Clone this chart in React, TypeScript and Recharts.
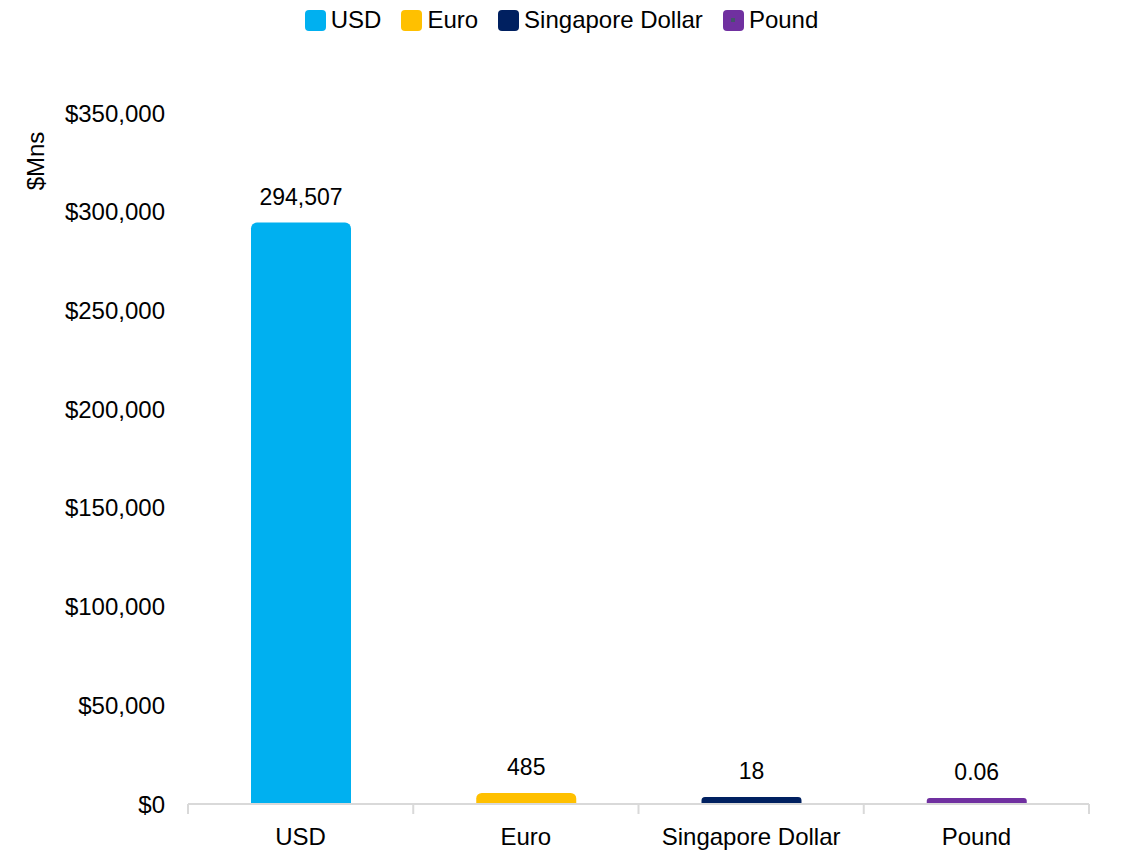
import React from 'react';
import { BarChart, Bar, XAxis, YAxis, Cell, LabelList, Legend } from 'recharts';

const categories = ['USD', 'Euro', 'Singapore Dollar', 'Pound'];
const values = [294507, 485, 18, 0.06];
const colors = ['#00B0F0', '#FFC000', '#002060', '#7030A0'];
const yTicks = [0, 50000, 100000, 150000, 200000, 250000, 300000, 350000];

const FONT = '"Liberation Sans", Arial, sans-serif';
const GRID = '#D9D9D9';

const data = categories.map((name, i) => ({ name, value: values[i], color: colors[i] }));

const fmtMoney = (v: number) => '$' + v.toLocaleString('en-US');
const fmtLabel = (v: number) => (v >= 1 ? v.toLocaleString('en-US') : String(v));

// tiny values still get a visible sliver, like the original
const minSize = (v: number) => (v > 100 ? 11 : v > 1 ? 7 : 6);

const TICK_MARGIN = 24;

// category label plus the tick marks Excel puts on the band edges
const CategoryTick = (props: any) => {
  const { x, y, payload, index, visibleTicksCount } = props;
  const half = payload?.offset ?? 0;
  const axisY = y - TICK_MARGIN;
  const last = index === (visibleTicksCount ?? categories.length) - 1;
  return (
    <g>
      <line x1={x - half} x2={x - half} y1={axisY} y2={axisY + 10} stroke={GRID} strokeWidth={2} />
      {last && <line x1={x + half} x2={x + half} y1={axisY} y2={axisY + 10} stroke={GRID} strokeWidth={2} />}
      <text x={x} y={y} dy="0.71em" textAnchor="middle" fontSize={24} fontFamily={FONT} fill="#000">
        {payload.value}
      </text>
    </g>
  );
};

const LegendRow = () => (
  <div style={{ display: 'flex', justifyContent: 'center', gap: 20, fontFamily: FONT, fontSize: 24, color: '#000' }}>
    {data.map((d) => (
      <div key={d.name} style={{ display: 'flex', alignItems: 'center', gap: 5 }}>
        <span
          style={{
            width: 21,
            height: 21,
            borderRadius: 4,
            background: d.color,
            display: 'inline-flex',
            alignItems: 'center',
            justifyContent: 'center',
          }}
        >
          {d.name === 'Pound' && <span style={{ width: 4, height: 4, background: '#44546A' }} />}
        </span>
        <span>{d.name}</span>
      </div>
    ))}
  </div>
);

export default function App() {
  return (
    <div style={{ position: 'absolute', left: 0, top: 0, width: 1123, height: 850, background: '#fff' }}>
      <BarChart width={1123} height={850} data={data} margin={{ top: 85, right: 34, left: 0, bottom: 0 }}>
        <Legend verticalAlign="top" content={<LegendRow />} wrapperStyle={{ top: 6, left: 0, width: 1123 }} />
        <XAxis
          dataKey="name"
          tick={<CategoryTick />}
          tickLine={false}
          tickSize={0}
          tickMargin={TICK_MARGIN}
          axisLine={{ stroke: GRID, strokeWidth: 2 }}
          interval={0}
          height={46}
        />
        <YAxis
          domain={[0, 350000]}
          ticks={yTicks}
          tickFormatter={fmtMoney}
          tick={{ fill: '#000', fontSize: 24, fontFamily: FONT }}
          axisLine={false}
          tickLine={false}
          tickSize={0}
          tickMargin={23}
          width={188}
          label={{
            content: (props: any) => {
              const vb = props.viewBox || { x: 0, y: 0 };
              const cx = vb.x + 35;
              const cy = vb.y + 48;
              return (
                <text
                  x={cx}
                  y={cy}
                  transform={`rotate(-90, ${cx}, ${cy})`}
                  textAnchor="middle"
                  dominantBaseline="central"
                  fontSize={24}
                  fontFamily={FONT}
                  fill="#000"
                >
                  $Mns
                </text>
              );
            },
          }}
        />
        <Bar dataKey="value" barSize={100} radius={[6, 6, 0, 0]} minPointSize={minSize} isAnimationActive={false}>
          {data.map((d) => (
            <Cell key={d.name} fill={d.color} />
          ))}
          <LabelList
            dataKey="value"
            position="top"
            offset={18}
            formatter={(v: any) => fmtLabel(Number(v))}
            style={{ fill: '#000', fontSize: 23, fontFamily: FONT }}
          />
        </Bar>
      </BarChart>
    </div>
  );
}
